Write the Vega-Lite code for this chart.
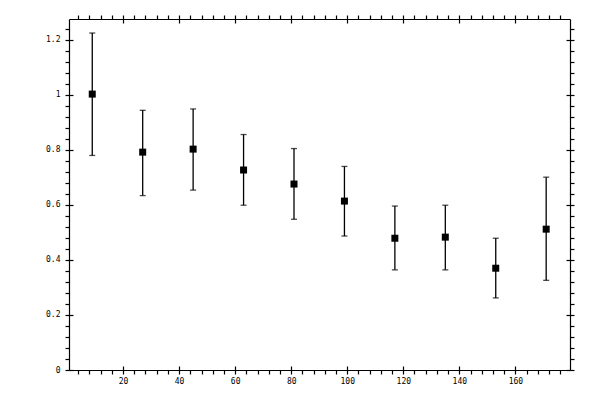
{
  "$schema": "https://vega.github.io/schema/vega-lite/v6.json",
  "autosize": "none",
  "width": 501,
  "height": 351,
  "padding": {"left": 69, "top": 19, "right": 30, "bottom": 30},
  "background": "white",
  "config": {
    "view": {"stroke": null},
    "axis": {
      "grid": false,
      "domainColor": "black",
      "domainWidth": 1.2,
      "tickColor": "black",
      "tickWidth": 1.2,
      "labelColor": "black",
      "labelFont": "DejaVu Sans Mono",
      "labelFontSize": 8,
      "labelOverlap": false,
      "labelBound": false,
      "labelFlush": false,
      "title": null
    }
  },
  "data": {
    "values": [
      {"angle": 9, "value": 1.003, "lo": 0.780, "hi": 1.225},
      {"angle": 27, "value": 0.792, "lo": 0.634, "hi": 0.944},
      {"angle": 45, "value": 0.803, "lo": 0.654, "hi": 0.949},
      {"angle": 63, "value": 0.727, "lo": 0.599, "hi": 0.856},
      {"angle": 81, "value": 0.676, "lo": 0.548, "hi": 0.805},
      {"angle": 99, "value": 0.614, "lo": 0.487, "hi": 0.740},
      {"angle": 117, "value": 0.479, "lo": 0.364, "hi": 0.596},
      {"angle": 135, "value": 0.483, "lo": 0.364, "hi": 0.599},
      {"angle": 153, "value": 0.370, "lo": 0.262, "hi": 0.479},
      {"angle": 171, "value": 0.512, "lo": 0.326, "hi": 0.701}
    ]
  },
  "layer": [
    {
      "mark": {"type": "rule", "color": "black", "strokeWidth": 1.3},
      "encoding": {
        "x": {"field": "angle", "type": "quantitative",
          "scale": {"domain": [0.7, 179.5], "nice": false, "zero": false},
          "axis": {"orient": "bottom", "values": [4,8,12,16,20,24,28,32,36,40,44,48,52,56,60,64,68,72,76,80,84,88,92,96,100,104,108,112,116,120,124,128,132,136,140,144,148,152,156,160,164,168,172,176],
            "tickSize": 4, "labelPadding": 3, "labelExpr": "datum.value % 20 === 0 ? format(datum.value, 'd') : ''"}},
        "y": {"field": "lo", "type": "quantitative",
          "scale": {"domain": [0, 1.276], "nice": false, "zero": false},
          "axis": {"orient": "left", "values": [0,0.04,0.08,0.12,0.16,0.2,0.24,0.28,0.32,0.36,0.4,0.44,0.48,0.52,0.56,0.6,0.64,0.68,0.72,0.76,0.8,0.84,0.88,0.92,0.96,1,1.04,1.08,1.12,1.16,1.2,1.24],
            "tickSize": 4, "labelPadding": 5, "labelExpr": "abs(round(datum.value*100) % 20) < 0.5 ? format(datum.value, '~g') : ''"}},
        "y2": {"field": "hi"}
      }
    },
    {
      "mark": {"type": "tick", "orient": "horizontal", "color": "black", "size": 6, "thickness": 1.3},
      "encoding": {
        "x": {"field": "angle", "type": "quantitative",
          "axis": {"orient": "top", "values": [4,8,12,16,20,24,28,32,36,40,44,48,52,56,60,64,68,72,76,80,84,88,92,96,100,104,108,112,116,120,124,128,132,136,140,144,148,152,156,160,164,168,172,176],
            "tickSize": 4, "labels": false}},
        "y": {"field": "lo", "type": "quantitative",
          "axis": {"orient": "right", "values": [0,0.04,0.08,0.12,0.16,0.2,0.24,0.28,0.32,0.36,0.4,0.44,0.48,0.52,0.56,0.6,0.64,0.68,0.72,0.76,0.8,0.84,0.88,0.92,0.96,1,1.04,1.08,1.12,1.16,1.2,1.24],
            "tickSize": 4, "labels": false}}
      }
    },
    {
      "mark": {"type": "tick", "orient": "horizontal", "color": "black", "size": 6, "thickness": 1.3},
      "encoding": {
        "x": {"field": "angle", "type": "quantitative",
          "axis": {"orient": "bottom", "values": [20,40,60,80,100,120,140,160],
            "tickSize": -4, "labels": false, "domain": false}},
        "y": {"field": "hi", "type": "quantitative",
          "axis": {"orient": "left", "values": [0,0.2,0.4,0.6,0.8,1,1.2],
            "tickSize": -4, "labels": false, "domain": false}}
      }
    },
    {
      "mark": {"type": "point", "shape": "square", "filled": true, "size": 49, "color": "black", "opacity": 1},
      "encoding": {
        "x": {"field": "angle", "type": "quantitative",
          "axis": {"orient": "top", "values": [20,40,60,80,100,120,140,160],
            "tickSize": -4, "labels": false, "domain": false}},
        "y": {"field": "value", "type": "quantitative",
          "axis": {"orient": "right", "values": [0,0.2,0.4,0.6,0.8,1,1.2],
            "tickSize": -4, "labels": false, "domain": false}}
      }
    }
  ],
  "resolve": {"axis": {"x": "independent", "y": "independent"}}
}
